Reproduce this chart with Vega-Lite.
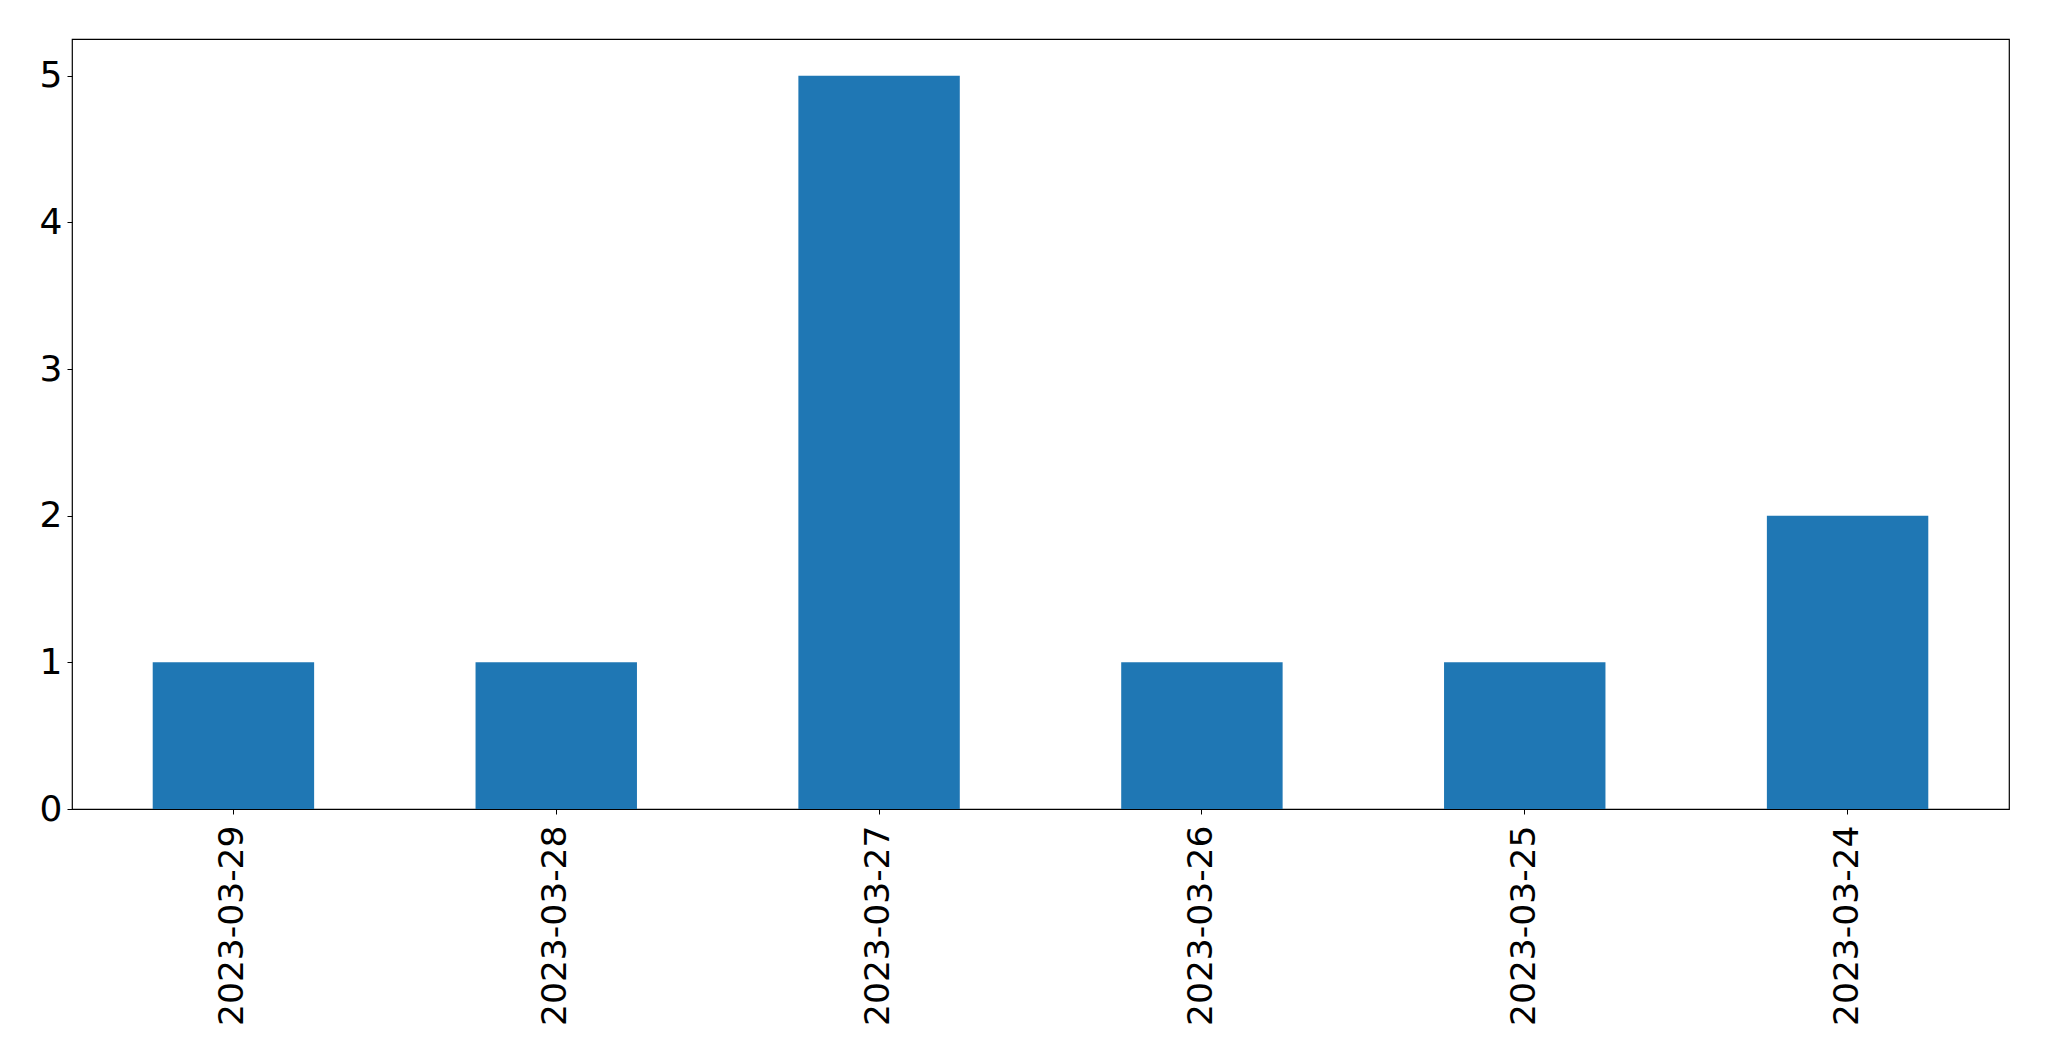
{
  "$schema": "https://vega.github.io/schema/vega-lite/v6.json",
  "autosize": "none",
  "padding": {"left": 72, "top": 39, "right": 40, "bottom": 252},
  "width": 1937,
  "height": 770,
  "background": "white",
  "data": {"values": [
    {"date": "2023-03-29", "count": 1},
    {"date": "2023-03-28", "count": 1},
    {"date": "2023-03-27", "count": 5},
    {"date": "2023-03-26", "count": 1},
    {"date": "2023-03-25", "count": 1},
    {"date": "2023-03-24", "count": 2}
  ]},
  "mark": {"type": "bar", "color": "#1f77b4"},
  "encoding": {
    "x": {
      "field": "date", "type": "nominal", "sort": null,
      "scale": {"paddingInner": 0.5, "paddingOuter": 0.25},
      "axis": {"title": null, "labelAngle": 270, "labelAlign": "right", "labelBaseline": "middle", "labelFontSize": 34.5, "labelFont": "DejaVu Sans", "labelColor": "black", "labelLimit": 0, "tickColor": "black", "tickSize": 5, "labelPadding": 11, "domain": false, "grid": false}
    },
    "y": {
      "field": "count", "type": "quantitative",
      "scale": {"domain": [0, 5.25], "nice": false},
      "axis": {"title": null, "values": [0, 1, 2, 3, 4, 5], "labelFontSize": 36, "labelFont": "DejaVu Sans", "labelColor": "black", "tickColor": "black", "tickSize": 5, "labelPadding": 5, "domain": false, "grid": false}
    }
  },
  "config": {"view": {"stroke": "black", "strokeWidth": 1.2}}
}
